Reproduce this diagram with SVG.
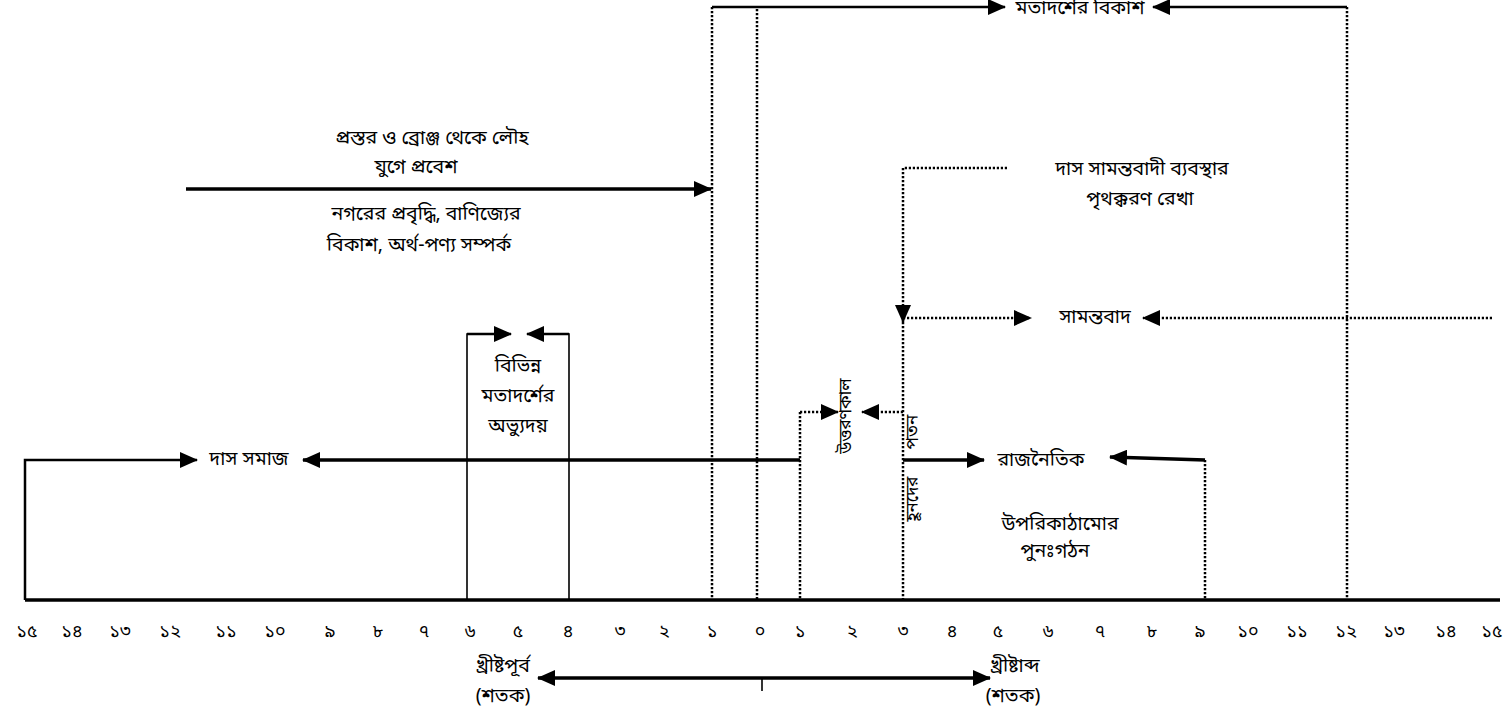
<svg xmlns="http://www.w3.org/2000/svg" width="1508" height="728" viewBox="0 0 1508 728">
<defs>
<marker id="ah" markerUnits="userSpaceOnUse" markerWidth="18" markerHeight="16" refX="17" refY="8" orient="auto">
<path d="M0,0 L18,8 L0,16 Z" fill="#000"/>
</marker>
</defs>
<style>
.t{font-family:"Noto Sans Bengali","Noto Serif Bengali","Lohit Bengali","Vrinda","FreeSerif","Noto Sans","Liberation Sans",sans-serif;font-size:19.5px;fill:#000;text-anchor:middle;dominant-baseline:central}
.n{font-size:18px}
.r{font-size:17px}
.thick{stroke:#000;stroke-width:3.5;fill:none}
.mid{stroke:#000;stroke-width:2.5;fill:none}
.thin{stroke:#000;stroke-width:1.6;fill:none}
.dot{stroke:#000;stroke-width:2.5;stroke-dasharray:2.2 1.8;fill:none}
.arr{marker-end:url(#ah)}
</style>
<rect width="1508" height="728" fill="#fff"/>
<g id="connectors">
<line class="mid arr" x1="712" y1="7" x2="1005" y2="7"/>
<line class="mid arr" x1="1347" y1="7" x2="1153" y2="7"/>
<line class="dot" x1="712" y1="7" x2="712" y2="600"/>
<line class="dot" x1="757" y1="9" x2="757" y2="600"/>
<line class="dot" x1="1347" y1="7" x2="1347" y2="600"/>
<line class="thick arr" x1="186" y1="189" x2="711" y2="189"/>
<polyline class="dot arr" points="1007,168 903,168 903,322"/>
<line class="dot" x1="903" y1="318" x2="903" y2="600"/>
<line class="dot arr" x1="903" y1="318" x2="1031" y2="318"/>
<line class="dot arr" x1="1492" y1="318" x2="1143" y2="318"/>
<polyline class="thin" points="467,600 467,334 495,334"/>
<line class="mid arr" x1="467" y1="334" x2="511" y2="334"/>
<polyline class="thin" points="569,600 569,334 545,334"/>
<line class="mid arr" x1="569" y1="334" x2="527" y2="334"/>
<polyline class="mid arr" points="25,600 25,460 197,460"/>
<line class="thick arr" x1="800" y1="460" x2="303" y2="460"/>
<line class="dot" x1="800" y1="412" x2="800" y2="600"/>
<line class="dot arr" x1="800" y1="412" x2="838" y2="412"/>
<line class="dot arr" x1="903" y1="412" x2="862" y2="412"/>
<line class="thick arr" x1="903" y1="460" x2="984" y2="460"/>
<line class="thick arr" x1="1205" y1="460" x2="1110" y2="457"/>
<line class="dot" x1="1205" y1="460" x2="1205" y2="600"/>
<line class="thick" x1="25" y1="600" x2="1500" y2="600"/>
<line class="thick arr" x1="762" y1="678" x2="538" y2="678"/>
<line class="thick arr" x1="762" y1="678" x2="990" y2="678"/>
<line class="thin" x1="762" y1="678" x2="762" y2="691"/>
</g>
<g id="n-top"><text class="t" x="1080" y="9">মতাদর্শের বিকাশ</text></g>
<g id="n-iron">
<text class="t" x="432" y="139">প্রস্তর ও ব্রোঞ্জ থেকে লৌহ</text>
<text class="t" x="416" y="168">যুগে প্রবেশ</text>
</g>
<g id="n-city">
<text class="t" x="426" y="215">নগরের প্রবৃদ্ধি, বাণিজ্যের</text>
<text class="t" x="419" y="246">বিকাশ, অর্থ-পণ্য সম্পর্ক</text>
</g>
<g id="n-sep">
<text class="t" x="1142" y="170">দাস সামন্তবাদী ব্যবস্থার</text>
<text class="t" x="1140" y="200">পৃথক্করণ রেখা</text>
</g>
<g id="n-feudal"><text class="t" x="1095" y="318">সামন্তবাদ</text></g>
<g id="n-ideas">
<text class="t" x="518" y="367">বিভিন্ন</text>
<text class="t" x="518" y="397">মতাদর্শের</text>
<text class="t" x="518" y="427">অভ্যুদয়</text>
</g>
<g id="n-slave"><text class="t" x="249" y="460">দাস সমাজ</text></g>
<g id="n-trans"><text class="t r" transform="translate(846,416) rotate(-90)">উত্তরণকাল</text></g>
<g id="n-fall">
<text class="t r" transform="translate(913,432) rotate(-90)">পতন</text>
<text class="t r" transform="translate(913,499) rotate(-90)">হূনদের</text>
</g>
<g id="n-pol"><text class="t" x="1041" y="461">রাজনৈতিক</text></g>
<g id="n-super">
<text class="t" x="1060" y="525">উপরিকাঠামোর</text>
<text class="t" x="1055" y="552">পুনঃগঠন</text>
</g>
<g id="axis-labels">
<text class="t n" x="27" y="632">১৫</text>
<text class="t n" x="72" y="632">১৪</text>
<text class="t n" x="120" y="632">১৩</text>
<text class="t n" x="170" y="632">১২</text>
<text class="t n" x="226" y="632">১১</text>
<text class="t n" x="275" y="632">১০</text>
<text class="t n" x="330" y="632">৯</text>
<text class="t n" x="378" y="632">৮</text>
<text class="t n" x="424" y="632">৭</text>
<text class="t n" x="470" y="632">৬</text>
<text class="t n" x="518" y="632">৫</text>
<text class="t n" x="568" y="632">৪</text>
<text class="t n" x="620" y="632">৩</text>
<text class="t n" x="664" y="632">২</text>
<text class="t n" x="712" y="632">১</text>
<text class="t n" x="760" y="632">০</text>
<text class="t n" x="800" y="632">১</text>
<text class="t n" x="852" y="632">২</text>
<text class="t n" x="903" y="632">৩</text>
<text class="t n" x="952" y="632">৪</text>
<text class="t n" x="998" y="632">৫</text>
<text class="t n" x="1048" y="632">৬</text>
<text class="t n" x="1100" y="632">৭</text>
<text class="t n" x="1152" y="632">৮</text>
<text class="t n" x="1200" y="632">৯</text>
<text class="t n" x="1248" y="632">১০</text>
<text class="t n" x="1297" y="632">১১</text>
<text class="t n" x="1346" y="632">১২</text>
<text class="t n" x="1394" y="632">১৩</text>
<text class="t n" x="1446" y="632">১৪</text>
<text class="t n" x="1492" y="632">১৫</text>
</g>
<g id="n-bc">
<text class="t" x="503" y="667">খ্রীষ্টপূর্ব</text>
<text class="t" x="503" y="697">(শতক)</text>
</g>
<g id="n-ad">
<text class="t" x="1015" y="667">খ্রীষ্টাব্দ</text>
<text class="t" x="1013" y="697">(শতক)</text>
</g>
</svg>
